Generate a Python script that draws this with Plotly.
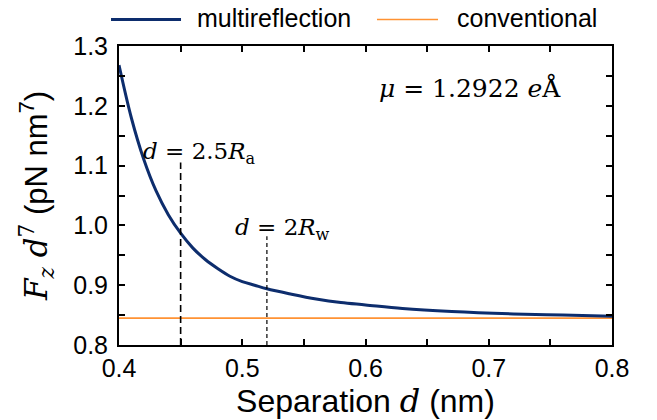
import plotly.graph_objects as go

# ---- data ----
sep_multi = [0.40, 0.41, 0.42, 0.43, 0.44, 0.45, 0.46, 0.47, 0.48, 0.49, 0.50, 0.51,
             0.52, 0.54, 0.56, 0.58, 0.60, 0.63, 0.67, 0.72, 0.76, 0.80]
force_multi = [1.268, 1.180, 1.111, 1.058, 1.018, 0.987, 0.962, 0.943, 0.928, 0.915, 0.906, 0.900,
               0.894, 0.885, 0.877, 0.871, 0.867, 0.861, 0.856, 0.852, 0.850, 0.848]
sep_conv = [0.400, 0.800]
force_conv = [0.845, 0.845]

marker_a_x = [0.45, 0.45]
marker_a_y = [0.80, 1.105]
marker_w_x = [0.52, 0.52]
marker_w_y = [0.80, 0.982]

x_ticks = [0.4, 0.5, 0.6, 0.7, 0.8]
y_ticks = [0.8, 0.9, 1.0, 1.1, 1.2, 1.3]

NAVY = "#0d2d6d"
ORANGE = "#ff9233"
SERIF = "DejaVu Serif"
SANS = "Liberation Sans, Arial, sans-serif"


def m(txt):
    return f"<span style=\"font-family:'{SERIF}'\">{txt}</span>"


fig = go.Figure()
fig.add_trace(go.Scatter(x=sep_conv, y=force_conv, mode="lines", name="conventional",
                         line=dict(color=ORANGE, width=1.6), showlegend=False))
fig.add_trace(go.Scatter(x=sep_multi, y=force_multi, mode="lines", name="multireflection",
                         line=dict(color=NAVY, width=3, shape="spline", smoothing=1.0),
                         showlegend=False))
fig.add_trace(go.Scatter(x=marker_a_x, y=marker_a_y, mode="lines", showlegend=False,
                         line=dict(color="black", width=1.6, dash="7px,4px")))
fig.add_trace(go.Scatter(x=marker_w_x, y=marker_w_y, mode="lines", showlegend=False,
                         line=dict(color="black", width=1.2, dash="4px,3px")))

axis_common = dict(showline=True, linecolor="black", linewidth=2, mirror="allticks",
                   ticks="inside", ticklen=6, tickwidth=2, tickcolor="black",
                   showgrid=False, zeroline=False,
                   tickfont=dict(family=SANS, size=25, color="black"))

fig.update_xaxes(range=[0.4, 0.8], tickvals=x_ticks, ticktext=[f"{v:.1f}" for v in x_ticks],
                 minor=dict(dtick=0.05, ticks="inside", ticklen=6, tickwidth=2, tickcolor="black"),
                 title=dict(text="Separation " + m("<i>d</i>") + " (nm)",
                            font=dict(family=SANS, size=32, color="black"), standoff=4),
                 **axis_common)
fig.update_yaxes(range=[0.8, 1.3], tickvals=y_ticks, ticktext=[f"{v:.1f}" for v in y_ticks],
                 minor=dict(dtick=0.05, ticks="inside", ticklen=6, tickwidth=2, tickcolor="black"),
                 title=dict(text=m("<i>F</i><sub><i>z</i></sub> <i>d</i><sup>7</sup>") + " (pN nm<sup>7</sup>)",
                            font=dict(family=SANS, size=31, color="black"), standoff=16),
                 ticklabelstandoff=4,
                 **axis_common)

annotations = [
    dict(x=0.6848, y=1.2296, xref="x", yref="y", showarrow=False, xanchor="center", yanchor="middle",
         text="<i>μ</i> = 1.2922 <i>e</i>Å", font=dict(family=SERIF, size=25, color="black")),
    dict(x=0.4657, y=1.1216, xref="x", yref="y", showarrow=False, xanchor="center", yanchor="middle",
         text="<i>d</i> = 2.5<i>R</i><sub>a</sub>", font=dict(family=SERIF, size=23, color="black")),
    dict(x=0.533, y=0.994, xref="x", yref="y", showarrow=False, xanchor="center", yanchor="middle",
         text="<i>d</i> = 2<i>R</i><sub>w</sub>", font=dict(family=SERIF, size=23, color="black")),
    # legend texts
    dict(x=0.1542, y=1.095, xref="paper", yref="paper", showarrow=False, xanchor="left", yanchor="middle",
         text="multireflection", font=dict(family=SANS, size=25, color="black")),
    dict(x=0.6815, y=1.095, xref="paper", yref="paper", showarrow=False, xanchor="left", yanchor="middle",
         text="conventional", font=dict(family=SANS, size=25, color="black")),
]

shapes = [
    dict(type="line", xref="paper", yref="paper", x0=-0.0162, x1=0.1258, y0=1.0884, y1=1.0884,
         line=dict(color=NAVY, width=3)),
    dict(type="line", xref="paper", yref="paper", x0=0.5233, x1=0.6471, y0=1.0884, y1=1.0884,
         line=dict(color=ORANGE, width=1.6)),
]

fig.update_layout(width=657, height=420, margin=dict(l=119, r=45, t=46, b=68),
                  plot_bgcolor="white", paper_bgcolor="white",
                  annotations=annotations, shapes=shapes, showlegend=False)

fig.write_html("out.html")
